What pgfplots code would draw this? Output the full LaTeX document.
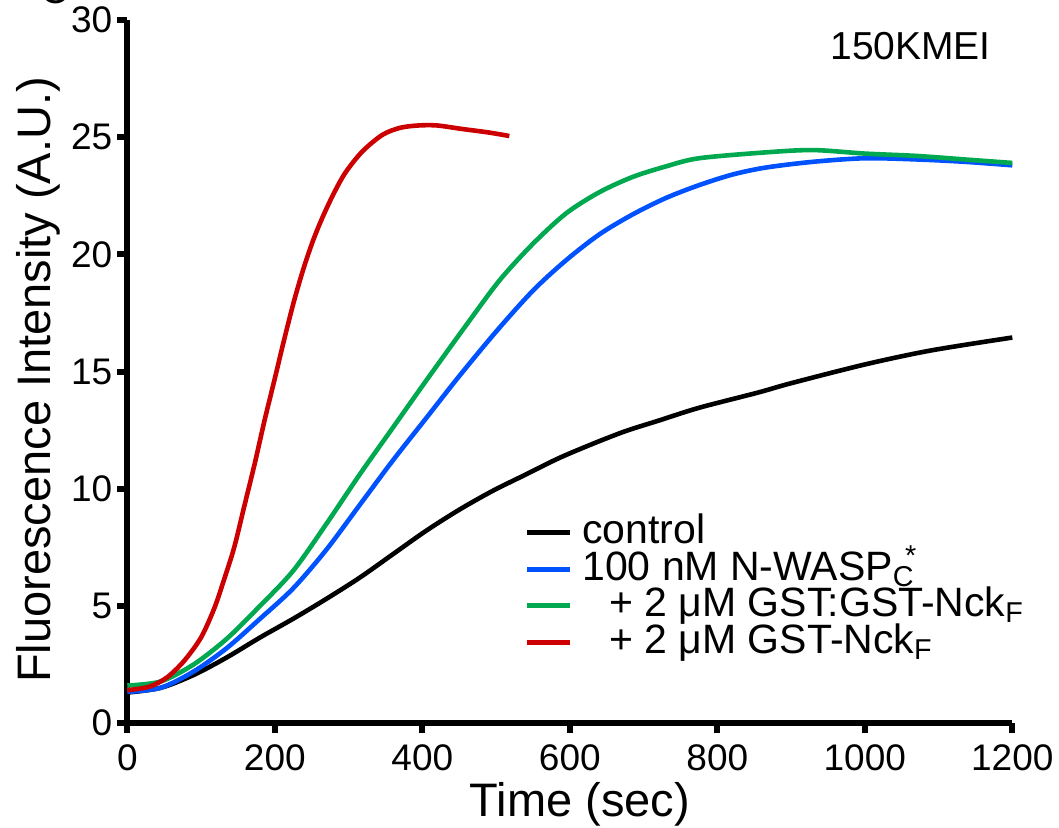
\documentclass[border=0pt]{standalone}
\usepackage{fontspec}
\setmainfont{Liberation Sans}
\usepackage{pgfplots}
\pgfplotsset{compat=1.18}
\definecolor{cblue}{RGB}{0,82,255}
\definecolor{cgreen}{RGB}{0,168,80}
\definecolor{cred}{RGB}{204,0,0}
\begin{document}
\begin{tikzpicture}
\begin{axis}[
  scale only axis, width=442.5pt, height=351.5pt,
  at={(0pt,0pt)}, anchor=south west,
  xmin=0, xmax=1200, ymin=0, ymax=30,
  axis lines*=left,
  axis line style={line width=3pt, black},
  xtick={0,200,...,1200}, ytick={0,5,...,30},
  tick align=outside, major tick length=5pt,
  tick style={line width=3pt, black},
  minor tick num=0,
  /pgf/number format/assume math mode=true,
  /pgf/number format/1000 sep={},
  ticklabel style={font=\fontsize{18.5}{18.5}\selectfont},
  xticklabel style={yshift=-2.5pt},
  yticklabel style={xshift=1pt},
  xlabel={Time (sec)}, ylabel={Fluorescence Intensity (A.U.)},
  every axis x label/.style={at={(axis description cs:0.5115,-0.1323)}, anchor=base,
    font=\fontsize{23.5}{23.5}\selectfont},
  every axis y label/.style={at={(axis description cs:-0.0870,0.488)}, rotate=90, anchor=base,
    font=\fontsize{23.5}{23.5}\selectfont},
  clip=false,
  legend style={at={(axis cs:537.7,8.91)}, anchor=north west, draw=none, fill=none,
    inner sep=0pt, font=\fontsize{20.5}{20.5}\selectfont,
    nodes={inner sep=0pt, text height=14.5pt, text depth=3.75pt},
    /tikz/every odd column/.append style={column sep=5pt}},
  legend cell align=left,
  legend image code/.code={\draw[#1, line width=2.5pt] (0pt,0pt) -- (21.5pt,0pt);},
  every axis plot/.append style={line width=2.3pt, line join=round, smooth},
]
\addplot[black] coordinates {
(0,1.3) (45,1.5) (90,2.05) (135,2.8) (180,3.65) (225,4.45) (270,5.3) (315,6.2)
(360,7.2) (405,8.2) (450,9.1) (495,9.9) (540,10.6) (585,11.3) (630,11.9)
(675,12.45) (720,12.9) (775,13.45) (855,14.1) (900,14.5) (1000,15.3) (1090,15.9) (1200,16.45)};
\addlegendentry{control}
\addplot[cblue] coordinates {
(0,1.33) (45,1.5) (90,2.2) (135,3.2) (180,4.45) (225,5.75) (270,7.4) (315,9.3)
(360,11.2) (405,13.0) (450,14.8) (500,16.7) (550,18.45) (595,19.75) (640,20.85)
(685,21.7) (730,22.4) (775,22.95) (820,23.4) (865,23.7) (930,23.95) (1000,24.1)
(1070,24.05) (1135,23.95) (1200,23.8)};
\addlegendentry{100 nM N-WASP\rlap{\textsubscript{C}}\hspace{0.3em}\textsuperscript{*}}
\addplot[cgreen] coordinates {
(0,1.6) (45,1.77) (90,2.5) (135,3.6) (180,5.0) (225,6.5) (270,8.5) (315,10.6)
(360,12.6) (405,14.6) (460,17.0) (505,18.9) (550,20.45) (595,21.75) (640,22.65)
(685,23.3) (730,23.75) (775,24.1) (865,24.35) (930,24.45) (1000,24.3) (1070,24.2)
(1135,24.05) (1200,23.9)};
\addlegendentry{\hspace*{13.5pt}+ 2 μM GST:GST-Nck\textsubscript{F}}
\addplot[cred] coordinates {
(0,1.4) (30,1.55) (54,1.95) (77,2.65) (100,3.65) (118,4.9) (131,6.1) (145,7.5)
(159,9.3) (173,11.1) (186,12.9) (200,14.7) (213,16.4) (226,18.0) (239,19.4)
(252,20.6) (265,21.6) (280,22.6) (296,23.5) (319,24.4) (346,25.1) (370,25.4)
(395,25.5) (420,25.5) (454,25.35) (490,25.2) (518,25.05)};
\addlegendentry{\hspace*{13.5pt}+ 2 μM GST-Nck\textsubscript{F}}
\node[anchor=base west, inner sep=0pt, font=\fontsize{19.5}{19.5}\selectfont] at (axis cs:952.8,28.3) {150KMEI};
\end{axis}
\node[anchor=base, font=\fontsize{20}{20}\selectfont] at (-36pt,359.5pt) {C};
\pgfresetboundingbox
\useasboundingbox (-63.65pt,-52pt) rectangle (465.85pt,361.5pt);
\end{tikzpicture}
\end{document}
